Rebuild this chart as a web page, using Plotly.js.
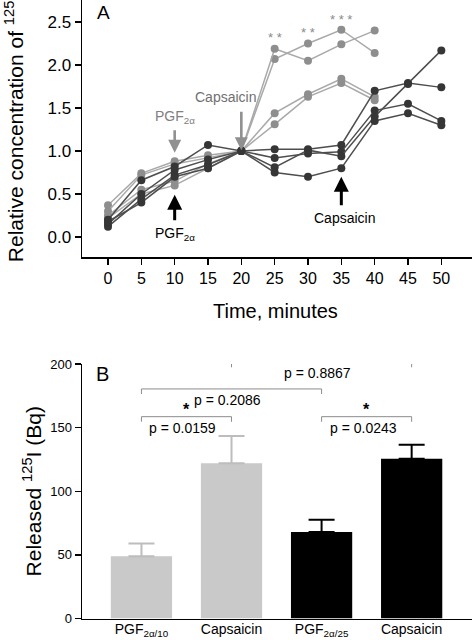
<!DOCTYPE html>
<html>
<head>
<meta charset="utf-8">
<script src="https://cdn.plot.ly/plotly-3.0.1.min.js"></script>
<style>html,body{margin:0;padding:0;background:#fff;}#chart{width:472px;height:640px;}</style>
</head>
<body>
<div id="chart"></div>
<script>
// ---------- Panel A data ----------
const timeCapsaicin20 = [0, 5, 10, 15, 20, 25, 30, 35, 40];
const timeCapsaicin35 = [0, 5, 10, 15, 20, 25, 30, 35, 40, 45, 50];
const grayLine1 = [0.37, 0.74, 0.88, 0.95, 1.00, 2.07, 2.25, 2.41, 2.14];
const grayLine2 = [0.30, 0.72, 0.85, 0.92, 1.00, 2.19, 2.05, 2.24, 2.40];
const grayLine3 = [0.25, 0.55, 0.65, 0.85, 1.00, 1.44, 1.66, 1.84, 1.63];
const grayLine4 = [0.22, 0.50, 0.60, 0.80, 1.00, 1.31, 1.63, 1.79, 1.59];
const darkLine1 = [0.20, 0.66, 0.82, 1.07, 1.00, 1.02, 1.02, 1.07, 1.70, 1.79, 1.74];
const darkLine2 = [0.15, 0.50, 0.78, 0.90, 1.00, 0.92, 0.97, 0.99, 1.47, 1.55, 1.35];
const darkLine3 = [0.12, 0.44, 0.72, 0.84, 1.00, 0.81, 1.01, 0.94, 1.40, 1.78, 2.17];
const darkLine4 = [0.18, 0.40, 0.70, 0.80, 1.00, 0.75, 0.70, 0.80, 1.35, 1.44, 1.30];
const timeTicks = [0, 5, 10, 15, 20, 25, 30, 35, 40, 45, 50];
const concTicks = [0, 0.5, 1.0, 1.5, 2.0, 2.5];
const starTimes = [25, 30, 35];
const starLabels = ['* *', '* *', '* * *'];
const starLevels = [2.32, 2.38, 2.53];

// ---------- Panel B data ----------
const barLabels = ['PGF<sub>2α/10</sub>', 'Capsaicin', 'PGF<sub>2α/25</sub>', 'Capsaicin'];
const barMeans = [49, 122, 68, 125.5];
const barErrors = [10, 21.5, 9.7, 11];
const releasedTicks = [0, 50, 100, 150, 200];
const compFrom = [0, 0, 1, 2];
const compTo = [1, 2, 3, 3];
const compLevel = [158.6, 180.4, 201.4, 158.6];
const compLabel = ['p = 0.0159', 'p = 0.2086', 'p = 0.8867', 'p = 0.0243'];
const compStar = ['*', '', '', '*'];

const W = 472, H = 640;
const FONT = 'Liberation Sans, Arial, Helvetica, sans-serif';
const GRAY_M = '#8e8e8e', GRAY_L = '#a9a9a9';
const DARK_M = '#363636', DARK_L = '#4e4e4e';

const traces = [];
[grayLine1, grayLine2, grayLine3, grayLine4].forEach(v => traces.push({
  x: timeCapsaicin20, y: v, type: 'scatter', mode: 'lines+markers',
  xaxis: 'x', yaxis: 'y', showlegend: false, hoverinfo: 'skip',
  line: {color: GRAY_L, width: 1.5}, marker: {color: GRAY_M, size: 8}
}));
[darkLine1, darkLine2, darkLine3, darkLine4].forEach(v => traces.push({
  x: timeCapsaicin35, y: v, type: 'scatter', mode: 'lines+markers',
  xaxis: 'x', yaxis: 'y', showlegend: false, hoverinfo: 'skip',
  line: {color: DARK_L, width: 1.5}, marker: {color: DARK_M, size: 8}
}));
traces.push({
  x: [0, 1, 2, 3], y: barMeans, type: 'bar', xaxis: 'x2', yaxis: 'y2',
  width: 0.68, showlegend: false, hoverinfo: 'skip',
  marker: {color: ['#c9c9c9', '#c9c9c9', '#000000', '#000000'], line: {width: 0}}
});
[[0, 1, '#bdbdbd'], [2, 3, '#000000']].forEach(g => traces.push({
  x: [g[0], g[1]], y: [barMeans[g[0]], barMeans[g[1]]], type: 'scatter', mode: 'markers',
  xaxis: 'x2', yaxis: 'y2', showlegend: false, hoverinfo: 'skip',
  marker: {size: 1, color: 'rgba(0,0,0,0)'},
  error_y: {type: 'data', symmetric: false, array: [barErrors[g[0]], barErrors[g[1]]],
    arrayminus: [0, 0], color: g[2], thickness: 2, width: 13}
}));
// empty carriers for the two title-only axes
traces.push({x: [], y: [], type: 'scatter', xaxis: 'x', yaxis: 'y3', showlegend: false, hoverinfo: 'skip'});
traces.push({x: [], y: [], type: 'scatter', xaxis: 'x2', yaxis: 'y4', showlegend: false, hoverinfo: 'skip'});

const px = v => v / W, py = v => 1 - v / H;
const C = {xanchor: 'center', yanchor: 'middle', showarrow: false};

const annotations = [
  Object.assign({xref: 'paper', yref: 'paper', x: px(103), y: py(12), text: 'A',
   font: {size: 19, color: '#000', family: FONT}}, C),
  Object.assign({xref: 'paper', yref: 'paper', x: px(102), y: py(374), text: 'B',
   font: {size: 20, color: '#000', family: FONT}}, C),
  Object.assign({xref: 'paper', yref: 'paper', x: px(275), y: py(311), text: 'Time, minutes',
   font: {size: 20, color: '#000', family: FONT}}, C),
  {xref: 'x', yref: 'y', x: 10, y: 0.98, ax: 0, ay: -24, text: '', showarrow: true,
   arrowhead: 2, arrowsize: 1, arrowwidth: 2.6, arrowcolor: '#909090'},
  Object.assign({xref: 'x', yref: 'y', x: 10, y: 1.40, text: 'PGF<sub>2α</sub>',
   font: {size: 14, color: '#808080', family: FONT}}, C),
  {xref: 'x', yref: 'y', x: 10, y: 0.49, ax: 0, ay: 27, text: '', showarrow: true,
   arrowhead: 2, arrowsize: 1, arrowwidth: 3, arrowcolor: '#000'},
  Object.assign({xref: 'x', yref: 'y', x: 10, y: 0.03, text: 'PGF<sub>2α</sub>',
   font: {size: 14, color: '#000', family: FONT}}, C),
  {xref: 'x', yref: 'y', x: 20, y: 1.01, ax: 0, ay: -40, text: '', showarrow: true,
   arrowhead: 2, arrowsize: 1, arrowwidth: 2.6, arrowcolor: '#909090'},
  Object.assign({xref: 'x', yref: 'y', x: 17.6, y: 1.63, text: 'Capsaicin',
   font: {size: 14, color: '#707070', family: FONT}}, C),
  {xref: 'x', yref: 'y', x: 35, y: 0.70, ax: 0, ay: 30, text: '', showarrow: true,
   arrowhead: 2, arrowsize: 1, arrowwidth: 3, arrowcolor: '#000'},
  Object.assign({xref: 'x', yref: 'y', x: 35.4, y: 0.22, text: 'Capsaicin',
   font: {size: 14, color: '#000', family: FONT}}, C)
];
starTimes.forEach((t, i) => annotations.push(Object.assign({
  xref: 'x', yref: 'y', x: t, y: starLevels[i], text: starLabels[i],
  font: {size: 13, color: '#8a8a8a', family: FONT}}, C)));

const shapes = [];
compFrom.forEach((a, i) => {
  const b = compTo[i], lv = compLevel[i];
  shapes.push({type: 'path', xref: 'x2', yref: 'y2',
    path: `M ${a} ${lv - 4} L ${a} ${lv} L ${b} ${lv} L ${b} ${lv - 4}`,
    line: {color: '#8c8c8c', width: 1}});
  annotations.push(Object.assign({xref: 'x2', yref: 'y2', x: (a + b) / 2 - 0.04, y: lv - 8.5,
    text: compLabel[i], font: {size: 14, color: '#000', family: FONT}}, C));
  if (compStar[i]) annotations.push(Object.assign({xref: 'x2', yref: 'y2', x: (a + b) / 2,
    y: lv + 6, text: '<b>' + compStar[i] + '</b>',
    font: {size: 16, color: '#000', family: FONT}}, C));
});

const titleAxis = (overlay, range, pos, text) => ({
  overlaying: overlay, anchor: 'free', position: pos, side: 'left', range: range,
  showline: false, ticks: '', showticklabels: false, showgrid: false, zeroline: false,
  title: {text: text, standoff: 0, font: {size: 21, color: '#000', family: FONT}}
});

const layout = {
  width: W, height: H, margin: {l: 0, r: 0, t: 0, b: 0},
  paper_bgcolor: '#fff', plot_bgcolor: '#fff', showlegend: false,
  font: {family: FONT, color: '#000'},
  xaxis: {domain: [82 / W, 1], range: [-3.9, 54.6], anchor: 'y',
    showline: true, linecolor: '#000', linewidth: 1.5,
    ticks: 'outside', ticklen: 6, tickwidth: 1.5, tickcolor: '#000',
    tickvals: timeTicks, showgrid: false, zeroline: false,
    tickfont: {size: 16, color: '#000', family: FONT}},
  yaxis: {domain: [1 - 257 / H, 1], range: [-0.2326, 2.756], anchor: 'x',
    showline: true, linecolor: '#000', linewidth: 1.5,
    ticks: 'outside', ticklen: 6, tickwidth: 1.5, tickcolor: '#000',
    tickvals: concTicks, tickformat: '.1f', showgrid: false, zeroline: false,
    tickfont: {size: 17, color: '#000', family: FONT}},
  yaxis3: titleAxis('y', [-0.2326, 2.756], px(31), 'Relative concentration of <sup>125</sup>I'),
  xaxis2: {domain: [82 / W, 1], range: [-0.66, 3.67], anchor: 'y2',
    showline: true, linecolor: '#000', linewidth: 1.5, ticks: '',
    tickvals: [0, 1, 2, 3], ticktext: barLabels, showgrid: false, zeroline: false,
    ticklabelstandoff: -3,
    tickfont: {size: 14, color: '#000', family: FONT}},
  yaxis2: {domain: [1 - 618.5 / H, 1 - 364 / H], range: [0, 200], anchor: 'x2',
    showline: true, linecolor: '#000', linewidth: 1.5,
    ticks: 'outside', ticklen: 6, tickwidth: 1.5, tickcolor: '#000',
    tickvals: releasedTicks, showgrid: false, zeroline: false,
    tickfont: {size: 13, color: '#000', family: FONT}},
  yaxis4: titleAxis('y2', [0, 200], px(49), 'Released <sup>125</sup>I (Bq)'),
  annotations: annotations,
  shapes: shapes
};

Plotly.newPlot('chart', traces, layout, {staticPlot: true, displayModeBar: false});
</script>
</body>
</html>
